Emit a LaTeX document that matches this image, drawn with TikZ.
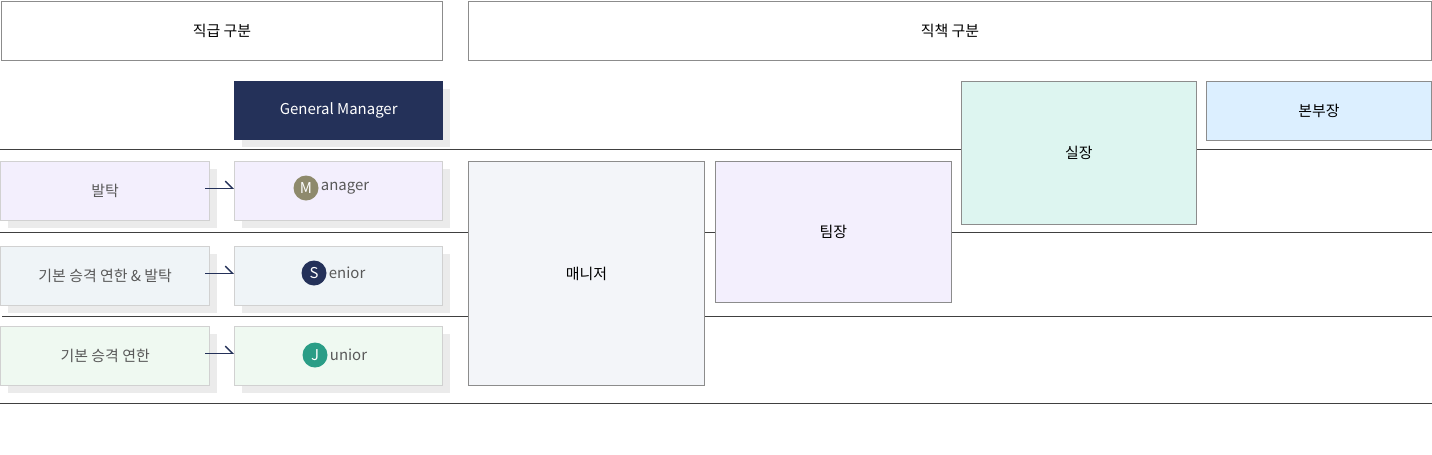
\documentclass[tikz,border=0pt]{standalone}
\usepackage{fontspec}
\setmainfont{Noto Sans CJK KR}
\usetikzlibrary{positioning,arrows.meta}
\definecolor{navy}{HTML}{243159}
\definecolor{lilac}{HTML}{F3EFFD}
\definecolor{frost}{HTML}{EFF4F7}
\definecolor{mint}{HTML}{EFF9F1}
\definecolor{paper}{HTML}{F3F5F9}
\definecolor{aqua}{HTML}{DDF5F0}
\definecolor{sky}{HTML}{DCEFFF}
\definecolor{olive}{HTML}{8E8A6C}
\definecolor{teal}{HTML}{2A9D86}
\begin{document}
\begin{tikzpicture}[x=0.02cm,y=-0.02cm,font=\fontsize{8.5}{10}\selectfont,
    box/.style = {draw=black!45, line width=0.5pt, inner sep=0pt, anchor=north west},
    shadowbox/.style = {box, draw=black!18, line width=0.8pt, fill=#1,
      preaction={fill=black!8, draw=none, transform canvas={xshift=4pt,yshift=-4pt}}},
    rank/.style = {text=black!65},
    badge/.style = {circle, fill=#1, text=white, minimum size=0.5cm, inner sep=0pt},
    step arrow/.style = {-{Straight Barb[left,length=4pt]}, navy, line width=0.8pt}]
  \useasboundingbox (0,0) rectangle (1432,454);
  % row lines
  \foreach \y/\x in {149/0,232/0,316/2,403/0}
    \draw[black!75, line width=0.5pt] (\x,\y) -- (1432,\y);
  % headers
  \node[box, fill=white, minimum width=441*0.02cm, minimum height=59*0.02cm] (grade) at (1,1) {직급 구분};
  \node[box, fill=white, minimum width=963*0.02cm, minimum height=59*0.02cm] (duty) at (468,1) {직책 구분};
  % grade boxes
  \node[shadowbox=navy, draw=navy, text=white, minimum width=208*0.02cm, minimum height=58*0.02cm] (gm) at (234,81) {General Manager};
  \node[shadowbox=lilac, rank, minimum width=209*0.02cm, minimum height=59*0.02cm] (pick) at (0,161) {발탁};
  \node[shadowbox=frost, rank, minimum width=209*0.02cm, minimum height=59*0.02cm] (basepick) at (0,246) {기본 승격 연한 \& 발탁};
  \node[shadowbox=mint, rank, minimum width=209*0.02cm, minimum height=59*0.02cm] (base) at (0,326) {기본 승격 연한};
  \node[shadowbox=lilac, minimum width=208*0.02cm, minimum height=59*0.02cm] (mgr) at (234,161) {};
  \node[shadowbox=frost, minimum width=208*0.02cm, minimum height=59*0.02cm] (sen) at (234,246) {};
  \node[shadowbox=mint, minimum width=208*0.02cm, minimum height=59*0.02cm] (jun) at (234,326) {};
  \node[badge=olive] (m) at (306,188) {M};
  \node[rank, anchor=west, inner sep=1pt] at (m.east) {anager};
  \node[badge=navy] (s) at (314,273) {S};
  \node[rank, anchor=west, inner sep=1pt] at (s.east) {enior};
  \node[badge=teal] (j) at (315,355) {J};
  \node[rank, anchor=west, inner sep=1pt] at (j.east) {unior};
  % arrows
  \draw[step arrow] (pick.east) ++(-5,-3) coordinate (p1) -- (mgr.west |- p1);
  \draw[step arrow] (basepick.east) ++(-5,-3) coordinate (p2) -- (sen.west |- p2);
  \draw[step arrow] (base.east) ++(-5,-3) coordinate (p3) -- (jun.west |- p3);
  % duty boxes
  \node[box, fill=paper, minimum width=236*0.02cm, minimum height=224*0.02cm] (staff) at (468,161) {매니저};
  \node[box, fill=lilac, minimum width=236*0.02cm, minimum height=141*0.02cm] (lead) at (715,161) {팀장};
  \node[box, fill=aqua, minimum width=235*0.02cm, minimum height=143*0.02cm] (room) at (961,81) {실장};
  \node[box, fill=sky, minimum width=225*0.02cm, minimum height=59*0.02cm] (head) at (1206,81) {본부장};
\end{tikzpicture}
\end{document}
